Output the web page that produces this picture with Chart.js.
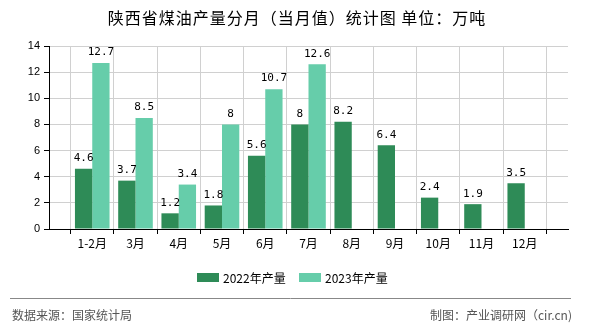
<!DOCTYPE html>
<html>
<head>
<meta charset="utf-8">
<script src="https://cdn.jsdelivr.net/npm/chart.js@4"></script>
<style>
	body { margin: 0; background: #fff; }
	canvas { display: block; }
</style>
</head>
<body>
<canvas id="myChart" width="590" height="330"></canvas>
<script>
// DATOS
let titulo = "陕西省煤油产量分月（当月值）统计图 单位：万吨";
let meses = ["1-2月", "3月", "4月", "5月", "6月", "7月", "8月", "9月", "10月", "11月", "12月"];
let produccion2022 = [4.6, 3.7, 1.2, 1.8, 5.6, 8, 8.2, 6.4, 2.4, 1.9, 3.5];
let produccion2023 = [12.7, 8.5, 3.4, 8, 10.7, 12.6, null, null, null, null, null];
let nombresSeries = ["2022年产量", "2023年产量"];
let coloresSeries = ["#2E8B57", "#66CDAA"];
let ticksY = [0, 2, 4, 6, 8, 10, 12, 14];
let fuente = "数据来源：国家统计局";
let autor = "制图：产业调研网（cir.cn)";

// el eje empieza y acaba media categoria mas alla, por eso un hueco a cada lado
let etiquetas = [""].concat(meses).concat([""]);
function rellenar(lista){
	return [null].concat(lista).concat([null]);
}

const fuenteCJK = '"Noto Sans CJK SC", "Liberation Sans", sans-serif';

// textos: valores encima de barras, titulo, leyenda y pie
const pluginTextos = {
	id: 'textos',
	afterDatasetsDraw(chart){
		let ctx = chart.ctx;
		ctx.save();
		ctx.fillStyle = "#000";
		ctx.font = '11px "DejaVu Sans Mono", monospace';
		ctx.textAlign = "center";
		ctx.textBaseline = "bottom";
		chart.data.datasets.forEach((ds, i) => {
			let meta = chart.getDatasetMeta(i);
			meta.data.forEach((barra, j) => {
				let v = ds.data[j];
				if(v === null || v === undefined) return;
				ctx.fillText(String(v), barra.x, barra.y - 5);
			});
		});
		ctx.restore();
	},
	afterDraw(chart){
		let ctx = chart.ctx;
		ctx.save();
		//titulo
		ctx.fillStyle = "#000";
		ctx.font = '16px ' + fuenteCJK;
		ctx.letterSpacing = "1px";
		ctx.textAlign = "center";
		ctx.textBaseline = "middle";
		ctx.fillText(titulo, 297, 18);
		ctx.letterSpacing = "0px";

		//leyenda
		ctx.font = '12px ' + fuenteCJK;
		ctx.textAlign = "left";
		let xs = [197, 299];
		chart.data.datasets.forEach((ds, i) => {
			ctx.fillStyle = ds.backgroundColor;
			ctx.fillRect(xs[i], 273, 22, 9);
			ctx.fillStyle = "#000";
			ctx.fillText(ds.label, xs[i] + 26, 278);
		});

		//linea separadora
		ctx.strokeStyle = "#888";
		ctx.lineWidth = 1;
		ctx.beginPath();
		ctx.moveTo(10, 298.5);
		ctx.lineTo(571, 298.5);
		ctx.stroke();

		//pie
		ctx.fillStyle = "#555";
		ctx.font = '12px ' + fuenteCJK;
		ctx.textAlign = "left";
		ctx.fillText(fuente, 12, 315);
		ctx.textAlign = "right";
		ctx.fillText(autor, 572, 315);
		ctx.restore();
	}
};

const data = {
	labels: etiquetas,
	datasets: [{
		label: nombresSeries[0],
		data: rellenar(produccion2022),
		backgroundColor: coloresSeries[0]
	}, {
		label: nombresSeries[1],
		data: rellenar(produccion2023),
		backgroundColor: coloresSeries[1]
	}]
};

const config = {
	type: 'bar',
	data: data,
	options: {
		responsive: false,
		animation: false,
		layout: { padding: { left: 0, right: 22, top: 46, bottom: 77 } },
		categoryPercentage: 0.8,
		barPercentage: 1,
		plugins: {
			legend: { display: false },
			tooltip: { enabled: false }
		},
		scales: {
			x: {
				offset: false,
				afterFit: (scale) => { scale.height = 24; },
				border: { color: "#000", width: 1 },
				grid: { color: "#d0d0d0", tickColor: "#000", tickLength: 5, drawTicks: true },
				ticks: {
					autoSkip: false, maxRotation: 0, padding: 2,
					color: "#000",
					font: { size: 12, family: fuenteCJK }
				}
			},
			y: {
				min: 0,
				max: ticksY[ticksY.length - 1],
				afterFit: (scale) => { scale.width = 49; },
				afterBuildTicks: (scale) => { scale.ticks = ticksY.map(v => ({ value: v })); },
				border: { color: "#000", width: 1 },
				grid: { color: "#d0d0d0", tickColor: "#000", tickLength: 5, drawTicks: true },
				ticks: {
					padding: 4,
					color: "#000",
					font: { size: 11, family: '"Liberation Sans", sans-serif' }
				}
			}
		}
	},
	plugins: [pluginTextos]
};

const myChart = new Chart(document.getElementById('myChart'), config);
</script>
</body>
</html>
